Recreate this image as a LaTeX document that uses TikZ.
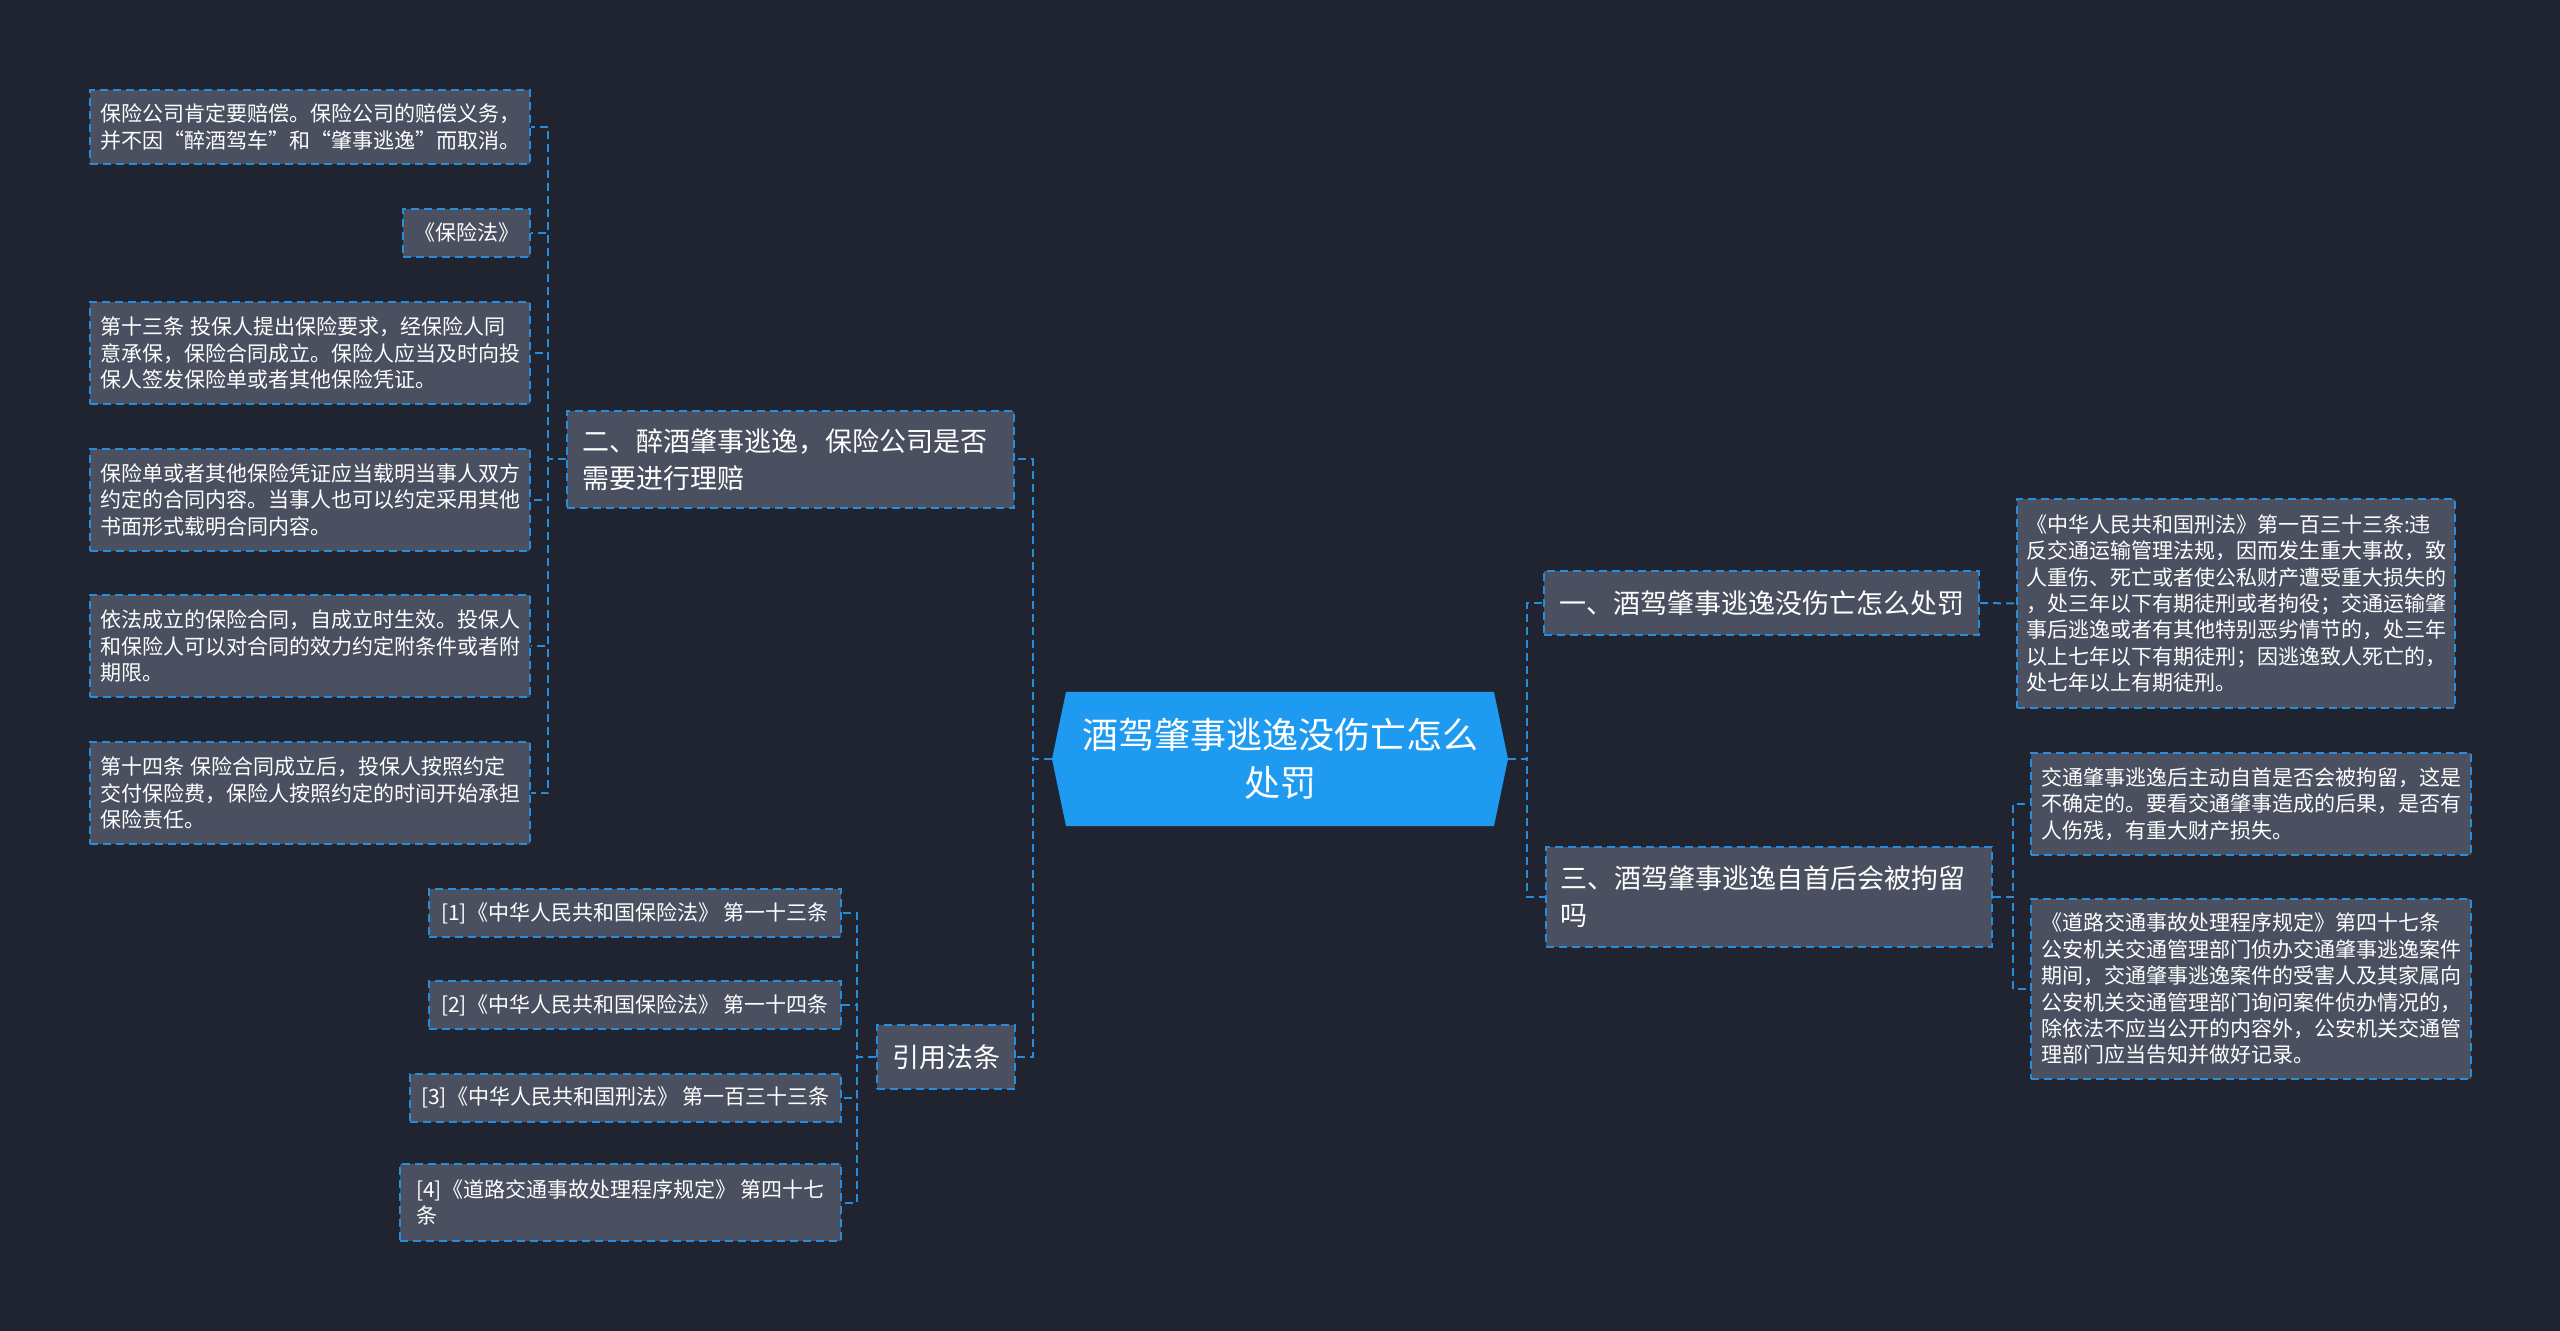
\documentclass[tikz,border=0pt]{standalone}
\usepackage{fontspec}
\setmainfont{Noto Sans CJK SC}
\definecolor{nen}{RGB}{32,36,48}
\definecolor{hop}{RGB}{74,80,96}
\definecolor{vien}{RGB}{38,140,220}
\definecolor{tam}{RGB}{30,155,240}

\begin{document}
\begin{tikzpicture}[x=0.5pt, y=-0.5pt,
    noi/.style={draw=vien, line width=1pt, dash pattern=on 4pt off 2.5pt},
    la/.style={noi, fill=hop, text=white, inner xsep=5pt, inner ysep=0pt,
        text width=210pt, align=left, font=\fontsize{10.5}{13.2}\selectfont},
    trich/.style={noi, fill=hop, text=white, inner sep=0pt, align=left,
        minimum height=24pt, font=\fontsize{10.5}{13.2}\selectfont},
    nhanh/.style={noi, fill=hop, text=white, inner xsep=7.5pt, inner ysep=0pt,
        align=left, font=\fontsize{13.5}{18.5}\selectfont}]
    % 1. Khung hình và nền tối
    \useasboundingbox (0,0) rectangle (2560,1331);
    \fill[nen] (0,0) rectangle (2560,1331);

    % 2. Nút trung tâm (lục giác xanh)
    \fill[tam] (1052,759) -- (1066,692) -- (1494,692) -- (1508,759)
        -- (1494,826) -- (1066,826) -- cycle;
    \node[text=white, align=center, minimum width=228pt, minimum height=67pt,
        inner sep=0pt, font=\fontsize{18}{24}\selectfont] (goc) at (1280,759)
        {酒驾肇事逃逸没伤亡怎么\\处罚};

    % 3. Hai nhánh bên trái
    \node[nhanh, text width=208.5pt, minimum height=48.5pt] (hai) at (790.5,459.5)
        {二、醉酒肇事逃逸，保险公司是否\\需要进行理赔};
    \node[nhanh, align=center, minimum width=68pt, minimum height=32pt] (dan)
        at (946,1057) {引用法条};

    % 4. Các lá của nhánh "二"
    \node[la, minimum height=37pt] (laA) at (310,127)
        {保险公司肯定要赔偿。保险公司的赔偿义务，\\并不因“醉酒驾车”和“肇事逃逸”而取消。};
    \node[la, text width=53.5pt, align=center, minimum height=24pt] (laB)
        at (466.5,233) {《保险法》};
    \node[la, minimum height=51pt] (laC) at (310,353)
        {第十三条 投保人提出保险要求，经保险人同\\意承保，保险合同成立。保险人应当及时向投\\保人签发保险单或者其他保险凭证。};
    \node[la, minimum height=51pt] (laD) at (310,500)
        {保险单或者其他保险凭证应当载明当事人双方\\约定的合同内容。当事人也可以约定采用其他\\书面形式载明合同内容。};
    \node[la, minimum height=51pt] (laE) at (310,646)
        {依法成立的保险合同，自成立时生效。投保人\\和保险人可以对合同的效力约定附条件或者附\\期限。};
    \node[la, minimum height=51pt] (laF) at (310,793)
        {第十四条 保险合同成立后，投保人按照约定\\交付保险费，保险人按照约定的时间开始承担\\保险责任。};

    % 5. Các điều luật được trích dẫn
    \node[trich, minimum width=206pt] (d1) at (635,913)
        {[1]《中华人民共和国保险法》 第一十三条};
    \node[trich, minimum width=206pt] (d2) at (635,1005)
        {[2]《中华人民共和国保险法》 第一十四条};
    \node[trich, minimum width=215.5pt] (d3) at (625.5,1097.5)
        {[3]《中华人民共和国刑法》 第一百三十三条};
    \node[trich, minimum width=220.5pt, minimum height=38.5pt] (d4) at (620.5,1202.5)
        {[4]《道路交通事故处理程序规定》 第四十七\\条};

    % 6. Hai nhánh bên phải và các lá
    \node[nhanh, align=center, minimum width=215.5pt, minimum height=32pt] (mot)
        at (1761.5,603) {一、酒驾肇事逃逸没伤亡怎么处罚};
    \node[nhanh, text width=209pt, inner xsep=7pt, minimum height=50pt] (ba)
        at (1769,897) {三、酒驾肇事逃逸自首后会被拘留\\吗};
    \node[la, inner xsep=4.5pt, minimum height=104.5pt] (xing) at (2236,603.5)
        {《中华人民共和国刑法》第一百三十三条:违\\反交通运输管理法规，因而发生重大事故，致\\人重伤、死亡或者使公私财产遭受重大损失的\\，处三年以下有期徒刑或者拘役；交通运输肇\\事后逃逸或者有其他特别恶劣情节的，处三年\\以上七年以下有期徒刑；因逃逸致人死亡的，\\处七年以上有期徒刑。};
    \node[la, minimum height=51pt] (tsu) at (2251,804)
        {交通肇事逃逸后主动自首是否会被拘留，这是\\不确定的。要看交通肇事造成的后果，是否有\\人伤残，有重大财产损失。};
    \node[la, minimum height=90pt] (guiding) at (2251,989)
        {《道路交通事故处理程序规定》第四十七条\\公安机关交通管理部门侦办交通肇事逃逸案件\\期间，交通肇事逃逸案件的受害人及其家属向\\公安机关交通管理部门询问案件侦办情况的，\\除依法不应当公开的内容外，公安机关交通管\\理部门应当告知并做好记录。};

    % 7. Đường nối nét đứt
    \draw[noi] (goc.west) -- ++(-19,0) |- (hai.east);
    \draw[noi] (goc.west) -- ++(-19,0) |- (dan.east);
    \draw[noi] (goc.east) -- ++(19,0) |- (mot.west);
    \draw[noi] (goc.east) -- ++(19,0) |- (ba.west);
    % Nhánh "二" tới các lá
    \draw[noi] (hai.west) -- ++(-18,0) |- (laA.east);
    \draw[noi] (hai.west) -- ++(-18,0) |- (laB.east);
    \draw[noi] (hai.west) -- ++(-18,0) |- (laC.east);
    \draw[noi] (hai.west) -- ++(-18,0) |- (laD.east);
    \draw[noi] (hai.west) -- ++(-18,0) |- (laE.east);
    \draw[noi] (hai.west) -- ++(-18,0) |- (laF.east);
    % "引用法条" tới các điều luật
    \draw[noi] (dan.west) -- ++(-19,0) |- (d1.east);
    \draw[noi] (dan.west) -- ++(-19,0) |- (d2.east);
    \draw[noi] (dan.west) -- ++(-19,0) |- (d3.east);
    \draw[noi] (dan.west) -- ++(-19,0) |- (d4.east);
    % Nhánh phải tới các lá
    \draw[noi] (mot.east) -- (xing.west);
    \draw[noi] (ba.east) -- ++(20,0) |- (tsu.west);
    \draw[noi] (ba.east) -- ++(20,0) |- (guiding.west);
\end{tikzpicture}
\end{document}
